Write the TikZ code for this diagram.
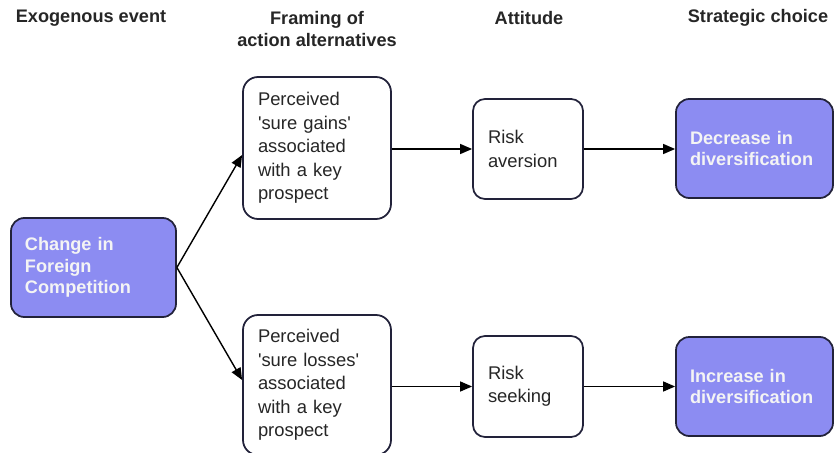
\documentclass[tikz,border=0pt]{standalone}
\usepackage{fontspec}
\setmainfont{Liberation Sans}
\usetikzlibrary{arrows.meta}
\definecolor{boxfill}{HTML}{8C8CF2}
\definecolor{boxline}{HTML}{22223A}
\definecolor{boxtext}{HTML}{F4F4F4}
\tikzset{
  header/.style={font=\fontsize{15.5}{18.5}\selectfont\bfseries, align=center, text=black!85},
  plainbox/.style={draw=boxline, line width=1.5pt, fill=white, rounded corners=0.45cm, inner xsep=0.45cm,
    align=left, font=\fontsize{15.7}{20}\selectfont, text=black!85},
  choicebox/.style={draw=boxline, line width=1.5pt, fill=boxfill, rounded corners=0.4cm, inner xsep=0.42cm,
    align=left, font=\fontsize{15.5}{18.3}\selectfont\bfseries, text=boxtext},
  link/.style={line width=1.2pt, -{Triangle[length=0.36cm,width=0.3cm]}}
}
\begin{document}
\begin{tikzpicture}[x=0.03cm, y=-0.03cm]
\useasboundingbox (0,0) rectangle (834,453);
\node[header] (hevent) at (91,18) {Exogenous event};
\node[header] (hframe) at (317,29) {Framing of\\action alternatives};
\node[header] (hatt) at (529,18) {Attitude};
\node[header] (hchoice) at (758,18) {Strategic choice};
\node[choicebox, minimum width=4.95cm, minimum height=2.97cm, text width=4.11cm] (change) at (93.5,267.5) {Change in\\Foreign\\Competition};
\node[plainbox, minimum width=4.44cm, minimum height=4.26cm, text width=3.54cm] (gains) at (317,148) {Perceived\\\textquotesingle sure gains\textquotesingle\\associated\\with a key\\prospect};
\node[plainbox, minimum width=4.44cm, minimum height=4.2cm, text width=3.54cm] (losses) at (317,385) {Perceived\\\textquotesingle sure losses\textquotesingle\\associated\\with a key\\prospect};
\node[plainbox, rounded corners=0.36cm, minimum width=3.3cm, minimum height=3.0cm, text width=2.4cm] (aversion) at (528,149) {Risk\\aversion};
\node[plainbox, rounded corners=0.36cm, minimum width=3.3cm, minimum height=3.03cm, text width=2.4cm] (seeking) at (528,386.5) {Risk\\seeking};
\node[choicebox, minimum width=4.71cm, minimum height=2.97cm, text width=3.87cm] (decrease) at (754.5,148.5) {Decrease in\\diversification};
\node[choicebox, minimum width=4.71cm, minimum height=2.97cm, text width=3.87cm] (increase) at (754.5,386.5) {Increase in\\diversification};
\draw[link] (change.east) -- (gains.west |- 0,155);
\draw[link] (change.east) -- (losses.west |- 0,380);
\draw[link] (gains.east |- aversion.west) -- (aversion.west);
\draw[link] (losses.east |- seeking.west) -- (seeking.west);
\draw[link] (aversion.east) -- (decrease.west |- aversion.east);
\draw[link] (seeking.east) -- (increase.west |- seeking.east);
\end{tikzpicture}
\end{document}
